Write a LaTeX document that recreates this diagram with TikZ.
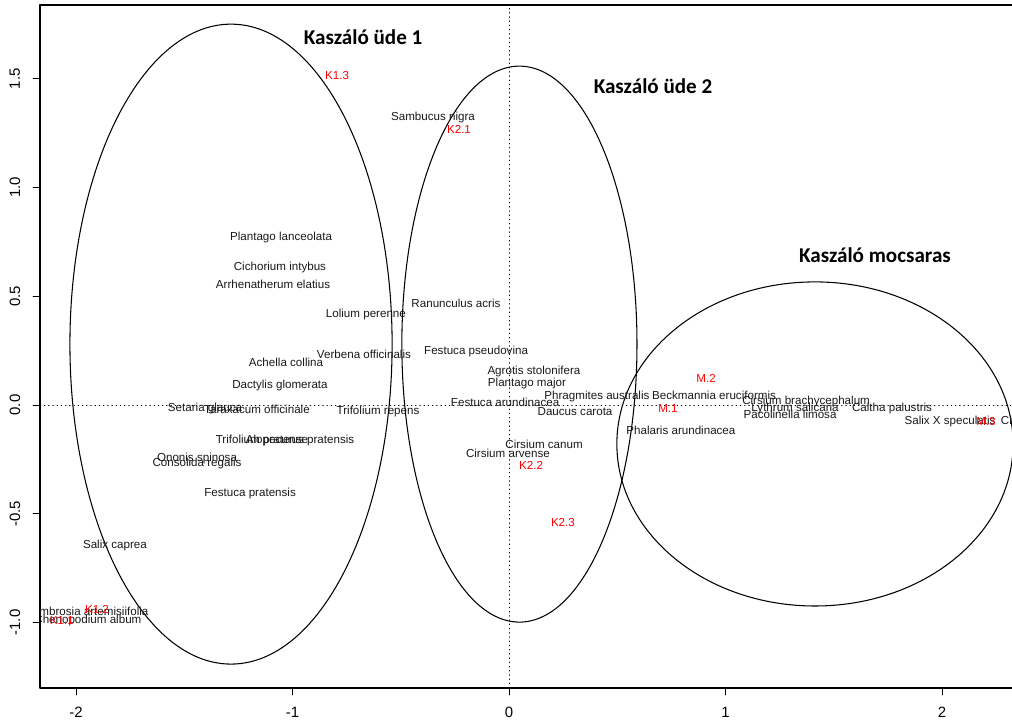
\documentclass[tikz,border=0pt]{standalone}
\usepackage{fontspec}
\setmainfont{Liberation Sans}
\newfontfamily\titlefont{Carlito}
\begin{document}
\begin{tikzpicture}[x=4.33cm, y=4.35cm, line join=round, line cap=round,
	spp/.style={inner sep=0pt, font=\fontsize{6.6}{7}\selectfont, text=black!90},
	site/.style={inner sep=0pt, font=\fontsize{6.6}{7}\selectfont, text=red},
	grp/.style={inner sep=0pt, font=\titlefont\bfseries\fontsize{12}{14}\selectfont},
	tick/.style={inner sep=0pt, font=\fontsize{8.5}{9}\selectfont}]
	\useasboundingbox (-2.351,-1.457) rectangle (2.323,1.862);
	% frame and axes
	\draw[line width=0.8pt] (-2.166,-1.301) rectangle (2.40,1.839);
	\draw[dotted, thin] (-2.166,0)--(2.40,0);
	\draw[dotted, thin] (0,-1.301)--(0,1.839);
	\foreach \x in {-2,-1,0,1,2} {
		\draw[line width=0.5pt] (\x,-1.301)--(\x,-1.333);
		\node[tick] (xt\x) at (\x,-1.411) {\x};
	}
	\foreach \y/\t in {-1/-1.0,-0.5/-0.5,0/0.0,0.5/0.5,1/1.0,1.5/1.5} {
		\draw[line width=0.5pt] (-2.166,\y)--(-2.198,\y);
		\node[tick, rotate=90] (yt\t) at (-2.282,\y) {\t};
	}
	% groups
	\draw[line width=0.6pt] (-1.284,0.280) ellipse [x radius=0.744, y radius=1.471];
	\draw[line width=0.6pt] (0.048,0.280) ellipse [x radius=0.543, y radius=1.278];
	\draw[line width=0.6pt] (1.413,-0.179) ellipse [x radius=0.915, y radius=0.745];
	\node[grp] (g1) at (-0.674,1.692) {Kaszáló üde 1};
	\node[grp] (g2) at (0.665,1.467) {Kaszáló üde 2};
	\node[grp] (g3) at (1.690,0.690) {Kaszáló mocsaras};
	\begin{scope}
		\clip (-2.166,-1.301) rectangle (2.6,1.839);
		% species
		\node[spp] (sambucus) at (-0.351,1.320) {Sambucus nigra};
		\node[spp] (plantlan) at (-1.053,0.768) {Plantago lanceolata};
		\node[spp] (cichor) at (-1.058,0.634) {Cichorium intybus};
		\node[spp] (arrhen) at (-1.090,0.556) {Arrhenatherum elatius};
		\node[spp] (ranunc) at (-0.245,0.467) {Ranunculus acris};
		\node[spp] (lolium) at (-0.661,0.414) {Lolium perenne};
		\node[spp] (verbena) at (-0.670,0.234) {Verbena officinalis};
		\node[spp] (festpse) at (-0.152,0.244) {Festuca pseudovina};
		\node[spp] (achella) at (-1.030,0.198) {Achella collina};
		\node[spp] (agrotis) at (0.115,0.156) {Agrotis stolonifera};
		\node[spp] (plantmaj) at (0.083,0.101) {Plantago major};
		\node[spp] (dactylis) at (-1.058,0.092) {Dactylis glomerata};
		\node[spp] (phragm) at (0.406,0.037) {Phragmites australis};
		\node[spp] (beckm) at (0.947,0.046) {Beckmannia eruciformis};
		\node[spp] (festaru) at (-0.018,0.014) {Festuca arundinacea};
		\node[spp] (setaria) at (-1.404,-0.018) {Setaria glauca};
		\node[spp] (taraxa) at (-1.164,-0.018) {Taraxacum officinale};
		\node[spp] (trifrep) at (-0.605,-0.032) {Trifolium repens};
		\node[spp] (daucus) at (0.305,-0.032) {Daucus carota};
		\node[spp] (cirsbra) at (1.372,0.014) {Cirsium brachycephalum};
		\node[spp] (lythrum) at (1.321,-0.018) {Lythrum salicaria};
		\node[spp] (puccin) at (1.298,-0.041) {Pacolinella limosa};
		\node[spp] (caltha) at (1.769,-0.014) {Caltha palustris};
		\node[spp] (salixsp) at (2.037,-0.078) {Salix X speculatis};
		\node[spp, anchor=west] (chen2) at (2.270,-0.078) {Chenopodium glaucum};
		\node[spp] (phalaris) at (0.794,-0.115) {Phalaris arundinacea};
		\node[spp] (trifpra) at (-1.141,-0.161) {Trifolium pratense};
		\node[spp] (alopec) at (-0.965,-0.161) {Alopecurus pratensis};
		\node[spp] (cirscan) at (0.162,-0.179) {Cirsium canum};
		\node[spp] (cirsarv) at (-0.005,-0.221) {Cirsium arvense};
		\node[spp] (ononis) at (-1.441,-0.248) {Ononis spinosa};
		\node[spp] (consol) at (-1.441,-0.271) {Consolida regalis};
		\node[spp] (festpra) at (-1.196,-0.405) {Festuca pratensis};
		\node[spp] (salixca) at (-1.820,-0.648) {Salix caprea};
		\node[spp] (ambros) at (-1.935,-0.947) {Ambrosia artemisiifolia};
		\node[spp] (chenop) at (-1.945,-0.989) {Chenopodium album};
		% sites
		\node[site] (k13) at (-0.794,1.513) {K1.3};
		\node[site] (k21) at (-0.231,1.269) {K2.1};
		\node[site] (k22) at (0.102,-0.276) {K2.2};
		\node[site] (k23) at (0.249,-0.538) {K2.3};
		\node[site] (m2) at (0.910,0.124) {M.2};
		\node[site] (m1) at (0.734,-0.018) {M.1};
		\node[site] (m3) at (2.203,-0.078) {M.3};
		\node[site] (k12) at (-1.903,-0.938) {K1.2};
		\node[site] (k11) at (-2.065,-0.989) {K1.1};
	\end{scope}
\end{tikzpicture}
\end{document}
